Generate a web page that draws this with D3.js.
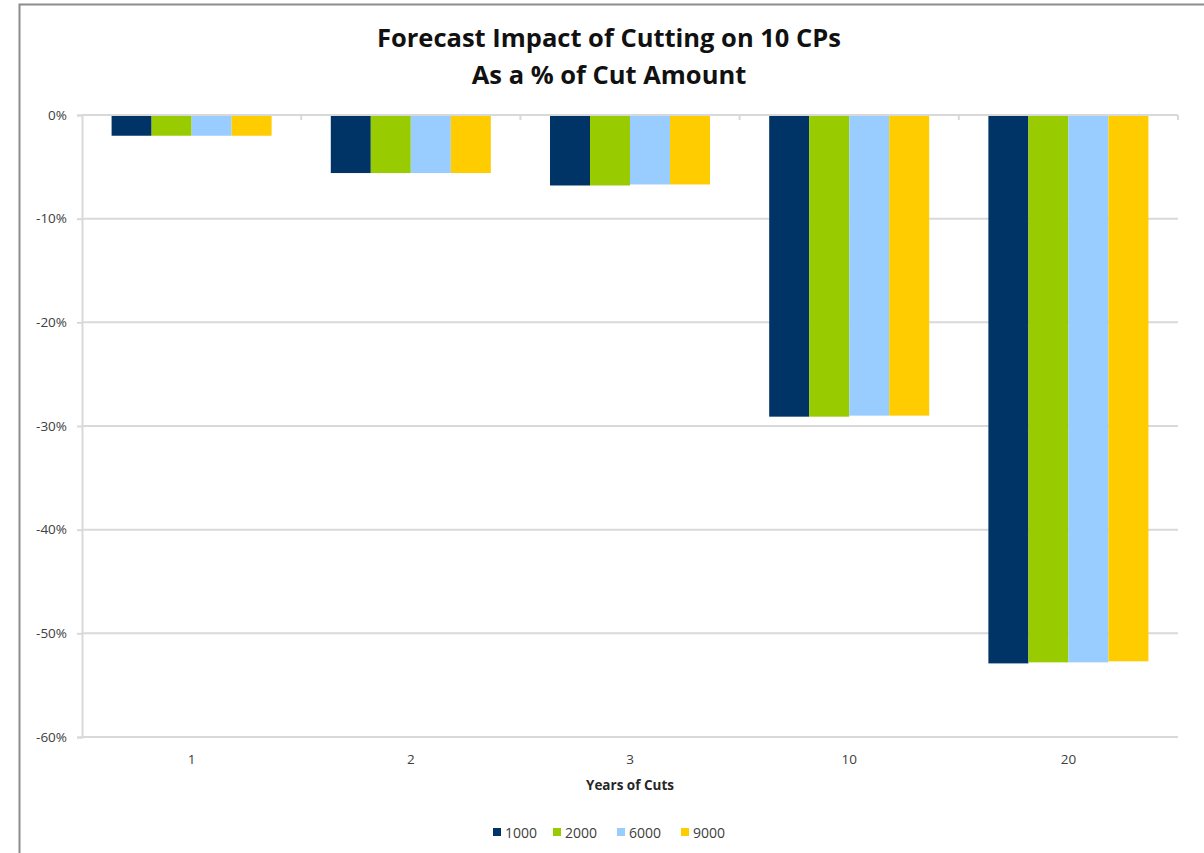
<!DOCTYPE html>
<html>
<head>
<meta charset="utf-8">
<script src="https://cdn.jsdelivr.net/npm/d3@7"></script>
<style>
  html, body { margin: 0; padding: 0; background: #ffffff; }
  svg { display: block; }
  text { font-family: "Open Sans", "Lato", sans-serif; }
</style>
</head>
<body>
<svg id="chart" width="1204" height="853"></svg>
<script>
// Years of cuts on the category axis
const categories = ["1", "2", "3", "10", "20"];
// One series per cut amount
const seriesNames = ["1000", "2000", "6000", "9000"];
const seriesColors = ["#003366", "#99cc00", "#99ccff", "#ffcc00"];
// Impact as a % of cut amount, per category, per series
const values1000 = [-2.0, -5.6, -6.8, -29.1, -52.9];
const values2000 = [-2.0, -5.6, -6.8, -29.1, -52.8];
const values6000 = [-2.0, -5.6, -6.7, -29.0, -52.8];
const values9000 = [-2.0, -5.6, -6.7, -29.0, -52.7];
const yTicks = [0, -10, -20, -30, -40, -50, -60];

const seriesValues = [values1000, values2000, values6000, values9000];

const svg = d3.select("#chart");
const W = 1204, H = 853;

// Outer frame of the chart object
svg.append("rect")
  .attr("x", 19.5).attr("y", 4.5)
  .attr("width", W + 20).attr("height", H + 20)
  .attr("fill", "#ffffff")
  .attr("stroke", "#8c8c8c").attr("stroke-width", 2);

const plot = { left: 82, right: 1178, top: 115, bottom: 737 };

const x = d3.scaleBand()
  .domain(categories)
  .range([plot.left, plot.right])
  .paddingInner(0.27).paddingOuter(0.135);

const xs = d3.scaleBand()
  .domain(seriesNames)
  .range([0, x.bandwidth()]);

const y = d3.scaleLinear()
  .domain([-60, 0])
  .range([plot.bottom, plot.top]);

// Horizontal gridlines
svg.append("g")
  .selectAll("line")
  .data(yTicks.filter(t => t !== 0))
  .join("line")
  .attr("x1", plot.left).attr("x2", plot.right)
  .attr("y1", d => y(d)).attr("y2", d => y(d))
  .attr("stroke", "#d9d9d9").attr("stroke-width", 2);

// Bars
const groups = svg.append("g")
  .selectAll("g")
  .data(categories)
  .join("g")
  .attr("transform", d => `translate(${x(d)},0)`);

groups.selectAll("rect")
  .data((c, ci) => seriesNames.map((s, si) => ({ s, si, v: seriesValues[si][ci] })))
  .join("rect")
  .attr("x", d => xs(d.s))
  .attr("y", d => y(0))
  .attr("width", xs.bandwidth())
  .attr("height", d => y(d.v) - y(0))
  .attr("fill", d => seriesColors[d.si]);

// Category axis along the zero line, ticks at band boundaries
const step = (plot.right - plot.left) / categories.length;
svg.append("line")
  .attr("x1", plot.left).attr("x2", plot.right)
  .attr("y1", y(0)).attr("y2", y(0))
  .attr("stroke", "#d9d9d9").attr("stroke-width", 2);
svg.append("g")
  .selectAll("line")
  .data(d3.range(1, categories.length + 1))
  .join("line")
  .attr("x1", i => plot.left + i * step).attr("x2", i => plot.left + i * step)
  .attr("y1", y(0)).attr("y2", y(0) + 5)
  .attr("stroke", "#d9d9d9").attr("stroke-width", 2);

// Value axis
const yAxis = d3.axisLeft(y)
  .tickValues(yTicks)
  .tickSize(5)
  .tickPadding(10)
  .tickFormat(d => d + "%");
const yg = svg.append("g")
  .attr("transform", `translate(${plot.left},0)`)
  .call(yAxis);
yg.select(".domain").attr("stroke", "#d9d9d9").attr("stroke-width", 2);
yg.selectAll(".tick line").attr("stroke", "#d9d9d9").attr("stroke-width", 2);
yg.selectAll(".tick text")
  .attr("fill", "#404040")
  .style("font-size", "13.5px")
  .style("font-family", "'Open Sans', sans-serif");

// Category labels below the plot
svg.append("g")
  .selectAll("text")
  .data(categories)
  .join("text")
  .attr("x", d => x(d) + x.bandwidth() / 2)
  .attr("y", 764)
  .attr("text-anchor", "middle")
  .attr("fill", "#404040")
  .style("font-size", "13.5px")
  .text(d => d);

// Axis title
svg.append("text")
  .attr("x", 630).attr("y", 790)
  .attr("text-anchor", "middle")
  .attr("fill", "#262626")
  .style("font-size", "13.5px")
  .style("font-weight", "bold")
  .text("Years of Cuts");

// Chart title
const title = svg.append("text")
  .attr("text-anchor", "middle")
  .attr("fill", "#111111")
  .style("font-size", "25.5px")
  .style("font-weight", "bold");
title.append("tspan").attr("x", 609).attr("y", 47).text("Forecast Impact of Cutting on 10 CPs");
title.append("tspan").attr("x", 609).attr("y", 84).text("As a % of Cut Amount");

// Legend
const legendX = [493, 553, 617, 681];
const legend = svg.append("g")
  .selectAll("g")
  .data(seriesNames)
  .join("g")
  .attr("transform", (d, i) => `translate(${legendX[i]},828)`);
legend.append("rect")
  .attr("width", 8).attr("height", 8)
  .attr("fill", (d, i) => seriesColors[i]);
legend.append("text")
  .attr("x", 12).attr("y", 9.5)
  .attr("fill", "#404040")
  .style("font-size", "14px")
  .text(d => d);
</script>
</body>
</html>
